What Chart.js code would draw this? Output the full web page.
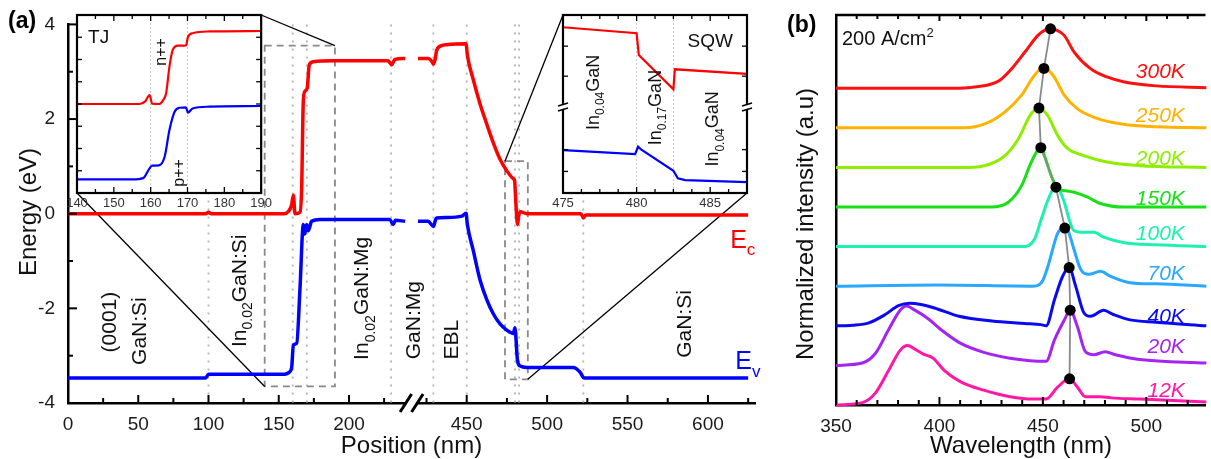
<!DOCTYPE html>
<html><head><meta charset="utf-8">
<script src="https://cdn.jsdelivr.net/npm/chart.js@4.4.1/dist/chart.umd.min.js"></script>
<style>
html,body{margin:0;padding:0;background:#fff;}
#wrap{position:relative;width:1211px;height:459px;overflow:hidden;background:#fff;}
canvas{position:absolute;}
</style></head><body>
<div id="wrap">
<canvas id="cMain" width="770" height="459" style="left:0;top:0;"></canvas>
<canvas id="cTJ" width="215" height="215" style="left:60px;top:0;"></canvas>
<canvas id="cSQW" width="215" height="215" style="left:545px;top:0;"></canvas>
<canvas id="cPL" width="441" height="459" style="left:770px;top:0;"></canvas>
</div>
<script>
const FONT = '"Liberation Sans", Arial, Helvetica, sans-serif';

// ---------------- Panel (a): band diagram (position nm, energy eV) ----------------
const ecPos = [0, 98, 100, 102, 154, 157, 159.2, 160.4, 161.6, 165.1, 166.3, 167.5, 168.7, 170.3, 171.7, 174.6, 188.8, 227.8, 230.4, 232.7, 240, 245, 419.7, 426, 428.3, 429.3, 430.3, 431.3, 434.4, 437.5, 449.6, 450.4, 454.1, 458.3, 462.4, 466.6, 470.7, 474.9, 479.0, 479.8, 480.3, 481.6, 482.3, 483.3, 487.4, 521.0, 522.6, 524.0, 625];
const ecVal = [0, 0, 0.03, 0, 0, 0.05, 0.19, 0.39, 0.00, 0.03, 0.53, 2.39, 2.59, 2.66, 3.14, 3.21, 3.23, 3.23, 3.15, 3.26, 3.28, null, 3.28, 3.28, 3.22, 3.16, 3.25, 3.45, 3.55, 3.57, 3.59, 3.35, 2.83, 2.32, 1.90, 1.49, 1.15, 0.91, 0.74, 0.70, 0.40, -0.23, -0.05, 0.04, 0.00, 0.00, -0.09, -0.03, -0.03];
const evPos = [0, 98, 100, 154.4, 157, 159.2, 160.4, 162.8, 165.1, 167.5, 168.5, 169.8, 171.0, 173.4, 179.4, 229, 231.5, 233, 240, 245, 419.7, 426, 429.3, 430.5, 431.3, 437.5, 447, 449.6, 450.4, 454.1, 458.3, 462.4, 466.6, 470.7, 474.9, 479.0, 480.0, 481.6, 483.3, 487.4, 516.3, 520.5, 523.0, 625];
const evVal = [-3.47, -3.47, -3.39, -3.39, -3.36, -3.25, -2.77, -2.74, -1.60, -0.23, -0.43, -0.23, -0.36, -0.16, -0.12, -0.12, -0.23, -0.14, -0.16, null, -0.16, -0.16, -0.27, -0.14, -0.09, -0.08, -0.05, 0.01, -0.23, -0.78, -1.40, -1.81, -2.12, -2.33, -2.46, -2.53, -2.41, -3.11, -3.22, -3.25, -3.25, -3.35, -3.47, -3.47];
const xTickNm = [0, 25, 50, 75, 100, 125, 150, 175, 200, 225, 425, 450, 475, 500, 525, 550, 575, 600, 625];
const yTickEv = [-4, -3, -2, -1, 0, 1, 2, 3, 4];
const layerBounds = [100, 160, 170, 230, 429.3, 450, 480, 482.6, 522.5];
const layerNames = [
  {parts: [['(0001)', 0]], nm: 28.5, ev: -2.29},
  {parts: [['GaN:Si', 0]], nm: 49.8, ev: -2.48},
  {parts: [['In', 0], ['0.02', 1], ['GaN:Si', 0]], nm: 121, ev: -1.63},
  {parts: [['In', 0], ['0.02', 1], ['GaN:Mg', 0]], nm: 208.5, ev: -1.79},
  {parts: [['GaN:Mg', 0]], nm: 245.5, ev: -2.25},
  {parts: [['EBL', 0]], nm: 439.6, ev: -2.66},
  {parts: [['GaN:Si', 0]], nm: 584.6, ev: -2.33}
];
const tjBox = {x0: 140, x1: 190, y0: -3.65, y1: 3.55};
const sqwBox = {x0: 473.8, x1: 488, y0: -3.5, y1: 1.11};

// TJ inset (position nm, energy eV)
const tjPos = [140, 157, 158.5, 159.7, 160.4, 162.4, 163.3, 164.2, 165.1, 166, 167.4, 169.6, 170.1, 171.4, 176, 190];
const tjEc  = [0, 0, 0.12, 0.40, 0.02, 0.0, 0.15, 0.48, 1.68, 2.43, 2.62, 2.63, 3.0, 3.18, 3.26, 3.28];
const tjPosV = [140, 155, 158, 159.7, 160.4, 162.2, 163.8, 165.1, 166.5, 167.8, 169.6, 170.1, 171.4, 176, 190];
const tjEv   = [-3.39, -3.39, -3.33, -2.89, -2.77, -2.76, -2.37, -1.17, -0.35, -0.17, -0.15, -0.39, -0.2, -0.12, -0.09];
const tjTicks = [140, 145, 150, 155, 160, 165, 170, 175, 180, 185, 190];

// SQW inset (position nm, energy in inset units, broken axis)
const sqwPosC = [475, 480.0, 480.15, 482.5, 482.6, 487.5];
const sqwEc   = [7.45, 7.18, 6.20, 4.66, 5.56, 5.35];
const sqwPosV = [475, 479.9, 480.1, 480.3, 482.5, 482.8, 483.3, 487.5];
const sqwEv   = [1.93, 1.75, 2.08, 1.96, 1.00, 0.66, 0.58, 0.49];
const sqwTicks = [475, 476.25, 477.5, 478.75, 480, 481.25, 482.5, 483.75, 485, 486.25, 487.5];
const sqwYTicks = [0.97, 1.95, 5.25, 6.6];

// ---------------- Panel (b): normalized PL spectra ----------------
const temps = ['300K', '250K', '200K', '150K', '100K', '70K', '40K', '20K', '12K'];
const offsets = [8, 7, 6, 5, 4, 3, 2, 1, 0];
const wl300 = [350, 400, 412, 419, 424, 428.6, 434.9, 441.3, 447.6, 451, 453.7, 456.5, 460.3, 465.1, 473, 481, 488.9, 504.8, 529];
const pl300 = [0, 0, 0.005, 0.03, 0.06, 0.12, 0.33, 0.61, 0.89, 0.98, 1.0, 0.98, 0.89, 0.61, 0.33, 0.19, 0.11, 0.04, 0.01];
const wl250 = [350, 412, 422.2, 431.7, 439.7, 445.2, 448.5, 450.5, 452.7, 455.6, 460.3, 466.7, 476.2, 488.9, 505, 529];
const pl250 = [0, 0, 0.07, 0.27, 0.55, 0.85, 0.98, 1.0, 0.97, 0.85, 0.55, 0.32, 0.16, 0.06, 0.02, 0];
const wl200 = [350, 414, 423.8, 431.7, 438.1, 443.7, 446.5, 448.1, 449.8, 452.4, 457.1, 461.9, 469.8, 481, 496.8, 529];
const pl200 = [0, 0, 0.05, 0.2, 0.48, 0.87, 0.98, 1.0, 0.97, 0.87, 0.54, 0.32, 0.2, 0.09, 0.03, 0];
const wl150 = [350, 425, 433.3, 439.7, 443.7, 446.8, 449, 450.8, 454, 457.1, 460, 465.1, 471.4, 477.8, 488.9, 529];
const pl150 = [0, 0, 0.08, 0.36, 0.7, 0.92, 1.0, 0.86, 0.53, 0.31, 0.28, 0.25, 0.17, 0.06, 0.0, 0];
const wl100 = [350, 440, 446, 449.2, 452.4, 454.8, 456.3, 457.8, 460, 465, 469.8, 474.6, 479.4, 488.9, 504.8, 529];
const pl100 = [0, 0, 0.13, 0.46, 0.78, 0.96, 1.0, 0.96, 0.78, 0.27, 0.24, 0.24, 0.16, 0.07, 0.03, 0];
const wl70 = [350, 400, 445, 448, 450, 452.4, 457.1, 459.2, 460.6, 462.2, 465.1, 468.3, 472.2, 477.8, 482.5, 492, 504.8, 529];
const pl70 = [0, 0.02, 0.0, 0.02, 0.1, 0.33, 0.89, 0.97, 0.98, 0.93, 0.61, 0.28, 0.2, 0.25, 0.17, 0.06, 0.04, 0];
const wl40 = [350, 358, 365.9, 373.8, 380.2, 385.7, 391, 397.6, 409.5, 425.4, 441.3, 449, 451.6, 455.6, 459.5, 462.7, 465.9, 469.8, 473, 479.4, 484.1, 492.1, 504.8, 529];
const pl40 = [0, 0.01, 0.05, 0.19, 0.34, 0.38, 0.36, 0.3, 0.16, 0.08, 0.04, 0.02, 0.0, 0.44, 0.83, 0.98, 0.66, 0.22, 0.16, 0.26, 0.19, 0.1, 0.06, 0.0];
const wl20 = [350, 362.7, 369, 375.4, 381, 384.1, 388.1, 394.4, 400.8, 410.3, 421.4, 434.1, 443.7, 451.6, 455.6, 460.3, 463.2, 466.7, 470.6, 474.6, 480.2, 485, 496.8, 529];
const pl20 = [0, 0.04, 0.2, 0.6, 0.93, 1.0, 0.93, 0.79, 0.6, 0.37, 0.22, 0.12, 0.08, 0.07, 0.43, 0.76, 0.93, 0.65, 0.23, 0.18, 0.23, 0.18, 0.1, 0.04];
const wl12 = [350, 362.7, 369, 375.4, 381, 384.6, 388.1, 392, 396.9, 402.4, 410.3, 421.4, 434.1, 445.2, 451.6, 457.1, 462.9, 466.7, 470.6, 477.8, 483, 496.8, 529];
const pl12 = [0, 0.04, 0.2, 0.58, 0.92, 1.0, 0.94, 0.86, 0.79, 0.58, 0.39, 0.25, 0.14, 0.1, 0.1, 0.3, 0.44, 0.3, 0.14, 0.14, 0.12, 0.1, 0.05];
const peakWl = [453.7, 450.5, 448.1, 449, 456.3, 460.6, 462.7, 463.2, 462.9];
const peakI  = [1.0, 1.0, 1.0, 1.0, 1.0, 0.98, 0.98, 0.93, 0.44];
const plTicks = [350, 360, 370, 380, 390, 400, 410, 420, 430, 440, 450, 460, 470, 480, 490, 500, 510, 520];

// ---------------- helpers ----------------
// broken position axis: left part 0-250 nm, right part 420-625 nm on a stretched scale
function toAxis(nm) { return nm <= 300 ? nm : 283.8 + (nm - 450) * 1.1447; }

function drawRich(ctx, parts, x, y, size, color, rotate, align, italic) {
  ctx.save();
  ctx.translate(x, y);
  if (rotate) ctx.rotate(-Math.PI / 2);
  ctx.fillStyle = color;
  ctx.textBaseline = 'alphabetic';
  ctx.textAlign = 'left';
  const fonts = parts.map(p => (italic ? 'italic ' : '') + (p[1] ? Math.round(size * 0.66) : size) + 'px ' + FONT);
  let w = 0;
  const ws = parts.map((p, i) => { ctx.font = fonts[i]; const m = ctx.measureText(p[0]).width; w += m; return m; });
  let cx = align === 'center' ? -w / 2 : align === 'right' ? -w : 0;
  const base = size * 0.36;
  parts.forEach((p, i) => {
    ctx.font = fonts[i];
    const dy = p[1] === 1 ? size * 0.3 : p[1] === 2 ? -size * 0.42 : 0;
    ctx.fillText(p[0], cx, base + dy);
    cx += ws[i];
  });
  ctx.restore();
}
function line(ctx, x1, y1, x2, y2) { ctx.beginPath(); ctx.moveTo(x1, y1); ctx.lineTo(x2, y2); ctx.stroke(); }

const noUI = {legend: {display: false}, tooltip: {enabled: false}};

// inset frame + inward ticks
function insetFrame(chart, xTicks, yTicks, xMajor) {
  const {ctx, chartArea: a, scales: {x, y}} = chart;
  ctx.save();
  ctx.strokeStyle = '#000';
  ctx.lineWidth = 1.3;
  xTicks.forEach(v => {
    const px = x.getPixelForValue(v);
    const L = xMajor(v) ? 6 : 4;
    line(ctx, px, a.bottom, px, a.bottom - L);
    line(ctx, px, a.top, px, a.top + L);
  });
  yTicks.forEach(v => {
    const py = y.getPixelForValue(v);
    line(ctx, a.left, py, a.left + 5, py);
    line(ctx, a.right, py, a.right - 5, py);
  });
  ctx.lineWidth = 2.2;
  ctx.strokeRect(a.left, a.top, a.right - a.left, a.bottom - a.top);
  ctx.restore();
}
function whiteBg(chart) {
  const {ctx, chartArea: a} = chart;
  ctx.save(); ctx.fillStyle = '#fff'; ctx.fillRect(a.left, a.top, a.right - a.left, a.bottom - a.top); ctx.restore();
}
function insetDotted(chart, xs) {
  const {ctx, chartArea: a, scales: {x}} = chart;
  ctx.save(); ctx.strokeStyle = '#c8c8c8'; ctx.lineWidth = 1; ctx.setLineDash([2, 2]);
  xs.forEach(v => { const px = x.getPixelForValue(v); line(ctx, px, a.top, px, a.bottom); });
  ctx.restore();
}

// ---------------- TJ inset ----------------
const tjChart = new Chart(document.getElementById('cTJ'), {
  type: 'line',
  data: {datasets: [
    {data: tjPos.map((p, i) => ({x: p, y: tjEc[i]})), borderColor: '#ff0000', borderWidth: 2.2, pointRadius: 0, cubicInterpolationMode: 'monotone'},
    {data: tjPosV.map((p, i) => ({x: p, y: tjEv[i]})), borderColor: '#0000ff', borderWidth: 2.2, pointRadius: 0, cubicInterpolationMode: 'monotone'}
  ]},
  options: {
    responsive: false, animation: false, devicePixelRatio: 1,
    layout: {padding: {left: 0, top: 15, right: 13, bottom: 0}},
    plugins: noUI,
    scales: {
      x: {type: 'linear', min: 140, max: 190,
        afterBuildTicks: s => { s.ticks = tjTicks.map(v => ({value: v})); },
        afterFit: s => { s.height = 22; },
        ticks: {autoSkip: false, maxRotation: 0, padding: 3, color: '#333', font: {family: FONT, size: 13},
          callback: (v, i) => tjTicks[i] % 10 === 0 ? String(tjTicks[i]) : ''},
        grid: {display: false, drawTicks: false}, border: {display: false}},
      y: {min: -4, max: 4, afterFit: s => { s.width = 17; },
        ticks: {display: false}, grid: {display: false, drawTicks: false}, border: {display: false}}
    }
  },
  plugins: [{
    id: 'tjDeco',
    beforeDatasetsDraw(chart) { whiteBg(chart); insetDotted(chart, [160, 170]); },
    afterDraw(chart) {
      const {ctx, scales: {x, y}} = chart;
      insetFrame(chart, tjTicks, yTickEv, v => v % 10 === 0);
      drawRich(ctx, [['TJ', 0]], x.getPixelForValue(143), y.getPixelForValue(3.03), 19, '#111', false, 'left');
      drawRich(ctx, [['n++', 0]], x.getPixelForValue(162.7), y.getPixelForValue(2.34), 16, '#111', true, 'center');
      drawRich(ctx, [['p++', 0]], x.getPixelForValue(167.4), y.getPixelForValue(-3.1), 16, '#111', true, 'center');
    }
  }]
});

// ---------------- SQW inset ----------------
const sqwChart = new Chart(document.getElementById('cSQW'), {
  type: 'line',
  data: {datasets: [
    {data: sqwPosC.map((p, i) => ({x: p, y: sqwEc[i]})), borderColor: '#ff0000', borderWidth: 2.2, pointRadius: 0, tension: 0},
    {data: sqwPosV.map((p, i) => ({x: p, y: sqwEv[i]})), borderColor: '#0000ff', borderWidth: 2.2, pointRadius: 0, tension: 0}
  ]},
  options: {
    responsive: false, animation: false, devicePixelRatio: 1,
    layout: {padding: {left: 0, top: 15, right: 13, bottom: 0}},
    plugins: noUI,
    scales: {
      x: {type: 'linear', min: 475, max: 487.5,
        afterBuildTicks: s => { s.ticks = sqwTicks.map(v => ({value: v})); },
        afterFit: s => { s.height = 22; },
        ticks: {autoSkip: false, maxRotation: 0, padding: 3, color: '#333', font: {family: FONT, size: 13},
          callback: (v, i) => sqwTicks[i] % 5 === 0 ? String(sqwTicks[i]) : ''},
        grid: {display: false, drawTicks: false}, border: {display: false}},
      y: {min: 0, max: 8, afterFit: s => { s.width = 18; },
        ticks: {display: false}, grid: {display: false, drawTicks: false}, border: {display: false}}
    }
  },
  plugins: [{
    id: 'sqwDeco',
    beforeDatasetsDraw(chart) { whiteBg(chart); insetDotted(chart, [480, 482.5]); },
    afterDraw(chart) {
      const {ctx, chartArea: a, scales: {x, y}} = chart;
      insetFrame(chart, sqwTicks, sqwYTicks, v => v % 5 === 0);
      // y-axis break marks
      const by = y.getPixelForValue(3.87);
      ctx.save();
      [a.left, a.right].forEach(ax => {
        ctx.fillStyle = '#fff'; ctx.fillRect(ax - 3, by - 3, 6, 6);
        ctx.strokeStyle = '#000'; ctx.lineWidth = 1.6;
        line(ctx, ax - 5, by - 1, ax + 5, by - 4);
        line(ctx, ax - 5, by + 4, ax + 5, by + 1);
      });
      ctx.restore();
      drawRich(ctx, [['SQW', 0]], x.getPixelForValue(485.0), y.getPixelForValue(6.88), 19, '#111', false, 'center');
      drawRich(ctx, [['In', 0], ['0.04', 1], ['GaN', 0]], x.getPixelForValue(477.0), y.getPixelForValue(4.52), 18, '#111', true, 'center');
      drawRich(ctx, [['In', 0], ['0.17', 1], ['GaN', 0]], x.getPixelForValue(481.2), y.getPixelForValue(3.84), 18, '#111', true, 'center');
      drawRich(ctx, [['In', 0], ['0.04', 1], ['GaN', 0]], x.getPixelForValue(485.1), y.getPixelForValue(2.88), 18, '#111', true, 'center');
    }
  }]
});

// ---------------- main panel (a) ----------------
const mainDeco = {
  id: 'mainDeco',
  beforeDatasetsDraw(chart) {
    const {ctx, chartArea: a, scales: {x, y}} = chart;
    ctx.save();
    // layer boundaries
    ctx.strokeStyle = '#b4b4b4'; ctx.lineWidth = 1.8; ctx.setLineDash([2, 6]);
    layerBounds.forEach(b => { const px = x.getPixelForValue(toAxis(b)); line(ctx, px, a.top, px, a.bottom); });
    // zoom rectangles
    ctx.strokeStyle = '#8a8a8a'; ctx.lineWidth = 1.8; ctx.setLineDash([7, 5]);
    [tjBox, sqwBox].forEach(r => {
      const x0 = x.getPixelForValue(toAxis(r.x0)), x1 = x.getPixelForValue(toAxis(r.x1));
      const y0 = y.getPixelForValue(r.y0), y1 = y.getPixelForValue(r.y1);
      ctx.strokeRect(x0, y1, x1 - x0, y0 - y1);
    });
    // connectors to insets
    ctx.setLineDash([]); ctx.strokeStyle = '#000'; ctx.lineWidth = 1.3;
    const ia = c => ({l: c.canvas.offsetLeft + c.chartArea.left, r: c.canvas.offsetLeft + c.chartArea.right,
                      t: c.canvas.offsetTop + c.chartArea.top, b: c.canvas.offsetTop + c.chartArea.bottom});
    const t = ia(tjChart), s = ia(sqwChart);
    line(ctx, t.r, t.t, x.getPixelForValue(toAxis(tjBox.x1)), y.getPixelForValue(tjBox.y1));
    line(ctx, t.l, t.b, x.getPixelForValue(toAxis(tjBox.x0)), y.getPixelForValue(tjBox.y0));
    line(ctx, s.l, s.t, x.getPixelForValue(toAxis(sqwBox.x0)), y.getPixelForValue(sqwBox.y1));
    line(ctx, s.r, s.b, x.getPixelForValue(toAxis(sqwBox.x1)), y.getPixelForValue(sqwBox.y0));
    ctx.restore();
    // layer names
    layerNames.forEach(L => drawRich(ctx, L.parts, x.getPixelForValue(toAxis(L.nm)), y.getPixelForValue(L.ev), 21, '#111', true, 'center'));
  },
  afterDraw(chart) {
    const {ctx, chartArea: a, scales: {x, y}} = chart;
    ctx.save();
    ctx.strokeStyle = '#000'; ctx.lineWidth = 2;
    xTickNm.forEach(n => { const px = x.getPixelForValue(toAxis(n)); const L = n % 50 === 0 ? 8 : 5; line(ctx, px, a.bottom, px, a.bottom - L); });
    yTickEv.forEach(v => { const py = y.getPixelForValue(v); const L = v % 2 === 0 ? 9 : 5; line(ctx, a.left, py, a.left + L, py); });
    // axis break
    const bc = x.getPixelForValue((240 + toAxis(419.7)) / 2);
    ctx.fillStyle = '#fff'; ctx.fillRect(bc - 6, a.bottom - 3, 12, 6);
    ctx.lineWidth = 3;
    line(ctx, bc - 11.5, a.bottom + 9, bc, a.bottom - 9);
    line(ctx, bc, a.bottom + 9, bc + 11.5, a.bottom - 9);
    ctx.restore();
    // band labels
    drawRich(ctx, [['E', 0], ['c', 1]], x.getPixelForValue(toAxis(613.8)), y.getPixelForValue(-0.53), 25, '#ff0000', false, 'left');
    drawRich(ctx, [['E', 0], ['v', 1]], x.getPixelForValue(toAxis(617)), y.getPixelForValue(-3.1), 25, '#0000ff', false, 'left');
    // axis titles
    drawRich(ctx, [['Position (nm)', 0]], (a.left + a.right) / 2, 444, 24, '#111', false, 'center');
    drawRich(ctx, [['Energy (eV)', 0]], 27, 212, 24, '#111', true, 'center');
    ctx.save(); ctx.font = 'bold 23px ' + FONT; ctx.fillStyle = '#000'; ctx.textBaseline = 'middle'; ctx.textAlign = 'left';
    ctx.fillText('(a)', 8, 22); ctx.restore();
  }
};

const mainChart = new Chart(document.getElementById('cMain'), {
  type: 'line',
  data: {datasets: [
    {data: ecPos.map((p, i) => ({x: toAxis(p), y: ecVal[i]})), borderColor: '#ff0000', borderWidth: 3.5, pointRadius: 0, cubicInterpolationMode: 'monotone', spanGaps: false},
    {data: evPos.map((p, i) => ({x: toAxis(p), y: evVal[i]})), borderColor: '#0000ff', borderWidth: 3.5, pointRadius: 0, cubicInterpolationMode: 'monotone', spanGaps: false}
  ]},
  options: {
    responsive: false, animation: false, devicePixelRatio: 1,
    layout: {padding: {left: 0, top: 15, right: 15, bottom: 0}},
    plugins: noUI,
    scales: {
      x: {type: 'linear', min: 0, max: 489,
        afterBuildTicks: s => { s.ticks = xTickNm.map(n => ({value: toAxis(n)})); },
        afterFit: s => { s.height = 56; },
        ticks: {autoSkip: false, maxRotation: 0, padding: 10, color: '#1a1a1a', font: {family: FONT, size: 19},
          callback: (v, i) => xTickNm[i] % 50 === 0 ? String(xTickNm[i]) : ''},
        grid: {display: false, drawTicks: false}, border: {display: true, color: '#000', width: 2.5}},
      y: {min: -4, max: 4,
        afterBuildTicks: s => { s.ticks = yTickEv.map(v => ({value: v})); },
        afterFit: s => { s.width = 68; },
        ticks: {autoSkip: false, padding: 13, color: '#1a1a1a', font: {family: FONT, size: 19},
          callback: v => v % 2 === 0 ? String(v) : ''},
        grid: {display: false, drawTicks: false}, border: {display: true, color: '#000', width: 2.5}}
    }
  },
  plugins: [mainDeco]
});

// ---------------- panel (b) ----------------
const plColors = ['#ff1010', '#ffb300', '#8fee00', '#18e018', '#1ef0b0', '#2aa8ff', '#0a0af0', '#a424f2', '#ff18a6'];
const plWl = [wl300, wl250, wl200, wl150, wl100, wl70, wl40, wl20, wl12];
const plIn = [pl300, pl250, pl200, pl150, pl100, pl70, pl40, pl20, pl12];
const AMP = 1.5;
const plSets = temps.map((t, k) => ({
  data: plWl[k].map((w, i) => ({x: w, y: offsets[k] + AMP * plIn[k][i]})),
  borderColor: plColors[k], borderWidth: 3, pointRadius: 0, cubicInterpolationMode: 'monotone', clip: false, order: 1
}));
plSets.unshift({
  data: peakWl.map((w, i) => ({x: w, y: offsets[i] + AMP * peakI[i]})),
  borderColor: '#8a8a8a', borderWidth: 1.8, pointRadius: 5.5, pointBackgroundColor: '#000', pointBorderWidth: 0,
  tension: 0, clip: false, order: 0
});
const labelDy = [0.46, 0.34, 0.25, 0.24, 0.36, 0.35, 0.27, 0.5, 0.39];

const plChart = new Chart(document.getElementById('cPL'), {
  type: 'line',
  data: {datasets: plSets},
  options: {
    responsive: false, animation: false, devicePixelRatio: 1,
    layout: {padding: {left: 0, top: 15, right: 0, bottom: 0}},
    plugins: noUI,
    scales: {
      x: {type: 'linear', min: 350, max: 528.6,
        afterBuildTicks: s => { s.ticks = plTicks.map(v => ({value: v})); },
        afterFit: s => { s.height = 54; },
        ticks: {autoSkip: false, maxRotation: 0, padding: 10, color: '#1a1a1a', font: {family: FONT, size: 19},
          callback: (v, i) => plTicks[i] % 50 === 0 ? String(plTicks[i]) : ''},
        grid: {display: false, drawTicks: false}, border: {display: true, color: '#000', width: 2.5}},
      y: {min: 0, max: 9.85, afterFit: s => { s.width = 66; },
        ticks: {display: false}, grid: {display: false, drawTicks: false}, border: {display: true, color: '#000', width: 2.5}}
    }
  },
  plugins: [{
    id: 'plDeco',
    afterDraw(chart) {
      const {ctx, chartArea: a, scales: {x, y}} = chart;
      ctx.save();
      ctx.strokeStyle = '#000'; ctx.lineWidth = 2.5;
      line(ctx, a.left - 1, a.top, a.right, a.top);
      ctx.lineWidth = 2;
      plTicks.forEach(v => {
        const px = x.getPixelForValue(v); const L = v % 50 === 0 ? 8 : 5;
        line(ctx, px, a.bottom, px, a.bottom - L);
        line(ctx, px, a.top, px, a.top + (v % 50 === 0 ? 6 : 4));
      });
      ctx.restore();
      temps.forEach((t, k) => drawRich(ctx, [[t, 0]], x.getPixelForValue(518.6), y.getPixelForValue(offsets[k] + labelDy[k]), 21, plColors[k], false, 'right', true));
      drawRich(ctx, [['200 A/cm', 0], ['2', 2]], a.left + 6, 38, 20, '#111', false, 'left');
      drawRich(ctx, [['Wavelength (nm)', 0]], 251, 444, 24, '#111', false, 'center');
      drawRich(ctx, [['Normalized intensity (a.u)', 0]], 34, 224, 24, '#111', true, 'center');
      ctx.save(); ctx.font = 'bold 23px ' + FONT; ctx.fillStyle = '#000'; ctx.textBaseline = 'middle'; ctx.textAlign = 'left';
      ctx.fillText('(b)', 17, 26); ctx.restore();
    }
  }]
});
</script>
</body></html>
